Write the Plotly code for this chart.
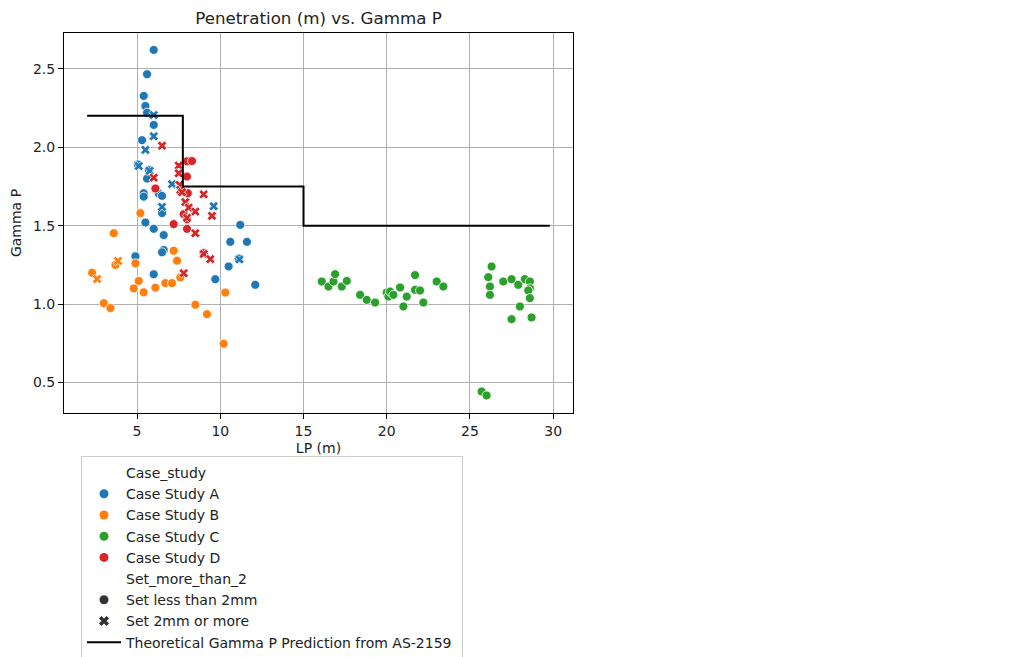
import plotly.graph_objects as go

# ---- Case Study A ----
a_lp = [6.0, 5.6, 5.4, 5.5, 5.6, 6.0, 5.3, 5.05, 5.7, 5.6, 5.4, 5.4, 6.3, 6.5, 6.5,
        5.5, 6.0, 6.6, 6.6, 6.5, 4.9, 6.0, 11.2, 10.6, 11.6, 11.1, 10.5, 9.7, 12.1,
        6.0, 6.0, 5.5, 5.1, 5.75, 7.1, 6.5, 9.6, 11.15]
a_gamma = [2.62, 2.465, 2.327, 2.263, 2.22, 2.142, 2.045, 1.89, 1.855, 1.80, 1.707, 1.685, 1.705, 1.69, 1.58,
           1.52, 1.48, 1.44, 1.345, 1.33, 1.305, 1.19, 1.505, 1.397, 1.397, 1.29, 1.24, 1.159, 1.123,
           2.205, 2.07, 1.983, 1.88, 1.85, 1.765, 1.62, 1.624, 1.285]
a_set2 = [0] * 29 + [1] * 9

# ---- Case Study B ----
b_lp = [5.2, 3.6, 7.2, 7.4, 4.9, 3.7, 2.3, 7.6, 5.1, 4.8, 6.1, 6.7, 7.1, 5.4, 10.3,
        3.0, 3.4, 8.5, 9.2, 10.2, 3.85, 2.6]
b_gamma = [1.58, 1.452, 1.34, 1.277, 1.26, 1.25, 1.20, 1.17, 1.148, 1.10, 1.105, 1.134, 1.134, 1.075, 1.074,
           1.006, 0.975, 0.996, 0.936, 0.747, 1.275, 1.16]
b_set2 = [0] * 20 + [1] * 2

# ---- Case Study C ----
c_lp = [16.1, 16.5, 16.8, 16.9, 17.3, 17.6, 18.4, 18.8, 19.3, 20.0, 20.1, 20.2, 20.4, 20.8,
        21.2, 21.0, 21.7, 21.7, 22.0, 22.2, 23.0, 23.4, 26.3, 26.1, 26.2, 26.2, 27.0, 27.5,
        27.9, 28.3, 28.6, 28.6, 28.5, 28.6, 28.0, 27.5, 28.7, 25.7, 26.0]
c_gamma = [1.144, 1.112, 1.144, 1.191, 1.112, 1.148, 1.059, 1.027, 1.01, 1.074, 1.048, 1.08, 1.059, 1.106,
           1.048, 0.985, 1.185, 1.091, 1.087, 1.01, 1.144, 1.112, 1.24, 1.172, 1.112, 1.059, 1.144, 1.159,
           1.123, 1.159, 1.144, 1.10, 1.087, 1.038, 0.985, 0.904, 0.915, 0.443, 0.418]
c_set2 = [0] * 39

# ---- Case Study D ----
d_lp = [8.0, 8.3, 8.0, 6.1, 8.05, 7.8, 8.0, 7.2, 8.0, 9.0,
        6.5, 7.5, 7.5, 6.0, 7.55, 7.6, 7.7, 9.0, 7.9, 8.1, 8.5, 9.5, 8.5, 9.0, 9.4, 7.8, 8.0]
d_gamma = [1.91, 1.912, 1.813, 1.737, 1.707, 1.573, 1.54, 1.51, 1.48, 1.325,
           2.01, 1.883, 1.834, 1.806, 1.76, 1.728, 1.713, 1.70, 1.65, 1.615, 1.59, 1.563, 1.452, 1.32,
           1.287, 1.197, 1.55]
d_set2 = [0] * 10 + [1] * 17

# ---- AS-2159 theoretical step prediction ----
pred_lp = [2.0, 7.75, 15.0, 29.8]
pred_gamma = [2.2, 1.75, 1.5, 1.5]

case_names = ["Case Study A", "Case Study B", "Case Study C", "Case Study D"]
case_colors = ["#1f77b4", "#ff7f0e", "#2ca02c", "#d62728"]
set_names = ["Set less than 2mm", "Set 2mm or more"]
set_symbols = ["circle", "x"]

cases = [(a_lp, a_gamma, a_set2), (b_lp, b_gamma, b_set2),
         (c_lp, c_gamma, c_set2), (d_lp, d_gamma, d_set2)]

FONT = "DejaVu Sans"
fig = go.Figure()

for (lp, gam, flag), name, col in zip(cases, case_names, case_colors):
    for k, sym in enumerate(set_symbols):
        xs = [x for x, f in zip(lp, flag) if f == k]
        ys = [y for y, f in zip(gam, flag) if f == k]
        if not xs:
            continue
        fig.add_trace(go.Scatter(
            x=xs, y=ys, mode="markers", showlegend=False, name=name,
            marker=dict(symbol=sym, size=9 if sym == "circle" else 8.5, color=col,
                        line=dict(color="white", width=0.8)),
        ))

# legend entries (seaborn-style hue / style sections)
def legend_entry(label, color, symbol="circle"):
    fig.add_trace(go.Scatter(
        x=[None], y=[None], mode="markers", name=label, showlegend=True,
        marker=dict(symbol=symbol, size=9, color=color, line=dict(width=0)),
    ))

legend_entry("Case_study", "rgba(0,0,0,0)")
for name, col in zip(case_names, case_colors):
    legend_entry(name, col)
legend_entry("Set_more_than_2", "rgba(0,0,0,0)")
for name, sym in zip(set_names, set_symbols):
    legend_entry(name, "#333333", sym)

fig.add_trace(go.Scatter(
    x=pred_lp, y=pred_gamma, mode="lines", line_shape="hv",
    line=dict(color="black", width=2), name="Theoretical Gamma P Prediction from AS-2159\u00a0",
))

axis_common = dict(
    showline=True, linecolor="black", linewidth=1, mirror=True,
    showgrid=True, gridcolor="#b0b0b0", gridwidth=1, zeroline=False,
    ticks="outside", ticklen=5, tickcolor="black", tickwidth=1,
    tickfont=dict(family=FONT, size=14, color="#222222"),
)

fig.update_layout(
    width=1034, height=657,
    paper_bgcolor="white", plot_bgcolor="white",
    margin=dict(l=64, r=461, t=33, b=244, autoexpand=False),
    font=dict(family=FONT, size=14, color="#222222"),
    title=dict(text="Penetration (m) vs. Gamma P", x=(64 + 573) / 2 / 1034, xanchor="center",
               y=1 - 18 / 657, yanchor="middle", font=dict(family=FONT, size=16.7, color="#222222")),
    xaxis=dict(range=[0.61, 31.19], tickvals=[5, 10, 15, 20, 25, 30],
               title=dict(text="LP (m)", standoff=5, font=dict(family=FONT, size=14)), **axis_common),
    yaxis=dict(range=[0.306, 2.728], tickvals=[0.5, 1.0, 1.5, 2.0, 2.5], tickformat=".1f",
               title=dict(text="Gamma P", standoff=8, font=dict(family=FONT, size=14)), **axis_common),
    legend=dict(x=(81 - 64) / 509, xanchor="left", y=(413 - 456) / 380, yanchor="top",
                itemwidth=34,
                bgcolor="rgba(255,255,255,0.8)", bordercolor="#cccccc", borderwidth=1,
                font=dict(family=FONT, size=14, color="#222222"), tracegroupgap=0),
)

fig.write_html("out.html")
